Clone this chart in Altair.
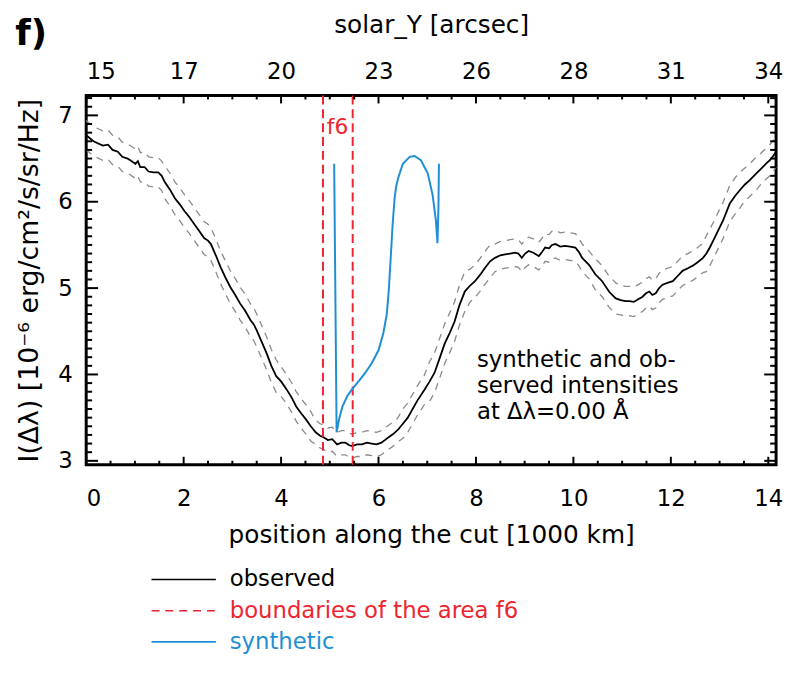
import json
import numpy as np
import pandas as pd
import altair as alt

FONT = "DejaVu Sans"
W, H = 697, 373
X_DOMAIN = [0, 14.16]
Y_DOMAIN = [2.955, 7.23]

RED = "#ee2530"
BLUE = "#1e8fd5"
GRAY = "#8a8a8a"

# ---------------- data ----------------
obs_x = [
    0.00, 0.15, 0.34, 0.45, 0.54, 0.65, 0.74, 0.85, 1.01, 1.06,
    1.11, 1.20, 1.28, 1.38, 1.48, 1.55, 1.61, 1.72, 1.82, 1.92,
    2.02, 2.12, 2.22, 2.32, 2.42, 2.50, 2.56, 2.66, 2.76, 2.86,
    2.96, 3.06, 3.16, 3.26, 3.37, 3.44, 3.50, 3.60, 3.70, 3.80,
    3.90, 4.00, 4.11, 4.21, 4.31, 4.41, 4.51, 4.61, 4.71, 4.80,
    4.88, 4.96, 5.05, 5.15, 5.24, 5.32, 5.40, 5.46, 5.56, 5.66,
    5.76, 5.86, 5.96, 6.06, 6.13, 6.20, 6.30, 6.40, 6.50, 6.60,
    6.70, 6.80, 6.94, 7.05, 7.15, 7.25, 7.36, 7.46, 7.56, 7.66,
    7.77, 7.88, 7.98, 8.08, 8.18, 8.29, 8.39, 8.50, 8.60, 8.70,
    8.80, 8.87, 8.94, 9.01, 9.08, 9.18, 9.29, 9.36, 9.42, 9.50,
    9.56, 9.63, 9.73, 9.83, 9.93, 10.04, 10.11, 10.18, 10.25, 10.32,
    10.45, 10.59, 10.66, 10.73, 10.80, 10.87, 10.97, 11.07, 11.15, 11.24,
    11.33, 11.42, 11.49, 11.56, 11.62, 11.69, 11.76, 11.83, 11.93, 12.04,
    12.14, 12.24, 12.35, 12.45, 12.55, 12.66, 12.73, 12.80, 12.87, 12.93,
    13.00, 13.07, 13.14, 13.21, 13.31, 13.41, 13.52, 13.62, 13.69, 13.76,
    13.83, 13.90, 13.97, 14.03, 14.10, 14.16,
]
obs_y = [
    6.77, 6.70, 6.65, 6.66, 6.60, 6.58, 6.52, 6.50, 6.44, 6.47,
    6.40, 6.40, 6.35, 6.34, 6.34, 6.30, 6.23, 6.14, 6.04, 5.97,
    5.89, 5.82, 5.74, 5.66, 5.58, 5.55, 5.51, 5.38, 5.24, 5.12,
    5.01, 4.92, 4.82, 4.74, 4.63, 4.58, 4.51, 4.38, 4.25, 4.10,
    3.98, 3.92, 3.83, 3.74, 3.63, 3.55, 3.48, 3.40, 3.33, 3.29,
    3.27, 3.24, 3.25, 3.19, 3.21, 3.21, 3.18, 3.17, 3.19, 3.19,
    3.21, 3.20, 3.19, 3.21, 3.24, 3.27, 3.31, 3.36, 3.43, 3.50,
    3.60, 3.70, 3.82, 3.92, 4.02, 4.18, 4.36, 4.48, 4.61, 4.80,
    4.96, 5.03, 5.08, 5.15, 5.23, 5.31, 5.35, 5.38, 5.39, 5.40,
    5.41, 5.40, 5.35, 5.40, 5.43, 5.41, 5.37, 5.42, 5.47, 5.46,
    5.50, 5.51, 5.48, 5.49, 5.48, 5.47, 5.42, 5.35, 5.31, 5.27,
    5.16, 5.08, 5.02, 4.96, 4.92, 4.88, 4.86, 4.85, 4.85, 4.84,
    4.87, 4.90, 4.94, 4.96, 4.92, 4.94, 5.00, 5.04, 5.06, 5.08,
    5.14, 5.20, 5.23, 5.26, 5.30, 5.35, 5.40, 5.47, 5.55, 5.62,
    5.70, 5.78, 5.88, 5.98, 6.06, 6.13, 6.20, 6.25, 6.29, 6.33,
    6.37, 6.41, 6.45, 6.48, 6.53, 6.58,
]
obs_err = [
    0.17, 0.17, 0.17, 0.17, 0.17, 0.17, 0.17, 0.17, 0.17, 0.17,
    0.17, 0.17, 0.17, 0.17, 0.17, 0.17, 0.19, 0.19, 0.19, 0.19,
    0.19, 0.19, 0.19, 0.19, 0.19, 0.19, 0.19, 0.19, 0.19, 0.19,
    0.19, 0.19, 0.19, 0.19, 0.19, 0.19, 0.19, 0.19, 0.19, 0.19,
    0.19, 0.17, 0.17, 0.17, 0.17, 0.17, 0.17, 0.17, 0.14, 0.14,
    0.14, 0.14, 0.14, 0.14, 0.14, 0.14, 0.14, 0.14, 0.14, 0.14,
    0.14, 0.14, 0.14, 0.14, 0.14, 0.14, 0.14, 0.14, 0.17, 0.17,
    0.17, 0.17, 0.17, 0.23, 0.23, 0.23, 0.23, 0.23, 0.23, 0.23,
    0.23, 0.19, 0.19, 0.19, 0.19, 0.19, 0.16, 0.16, 0.16, 0.16,
    0.16, 0.16, 0.16, 0.16, 0.16, 0.16, 0.16, 0.16, 0.16, 0.16,
    0.16, 0.16, 0.16, 0.16, 0.16, 0.16, 0.16, 0.16, 0.16, 0.16,
    0.18, 0.18, 0.18, 0.18, 0.18, 0.18, 0.17, 0.17, 0.17, 0.17,
    0.17, 0.17, 0.17, 0.17, 0.17, 0.17, 0.17, 0.17, 0.17, 0.17,
    0.17, 0.17, 0.17, 0.17, 0.17, 0.17, 0.21, 0.21, 0.21, 0.21,
    0.21, 0.21, 0.21, 0.21, 0.21, 0.21, 0.19, 0.19, 0.19, 0.19,
    0.18, 0.18, 0.18, 0.18, 0.18, 0.18,
]

syn_x = [5.09, 5.14, 5.19, 5.26, 5.36, 5.46, 5.59, 5.73, 5.86, 6.00,
         6.10, 6.17, 6.21, 6.25, 6.29, 6.33, 6.36, 6.40, 6.50, 6.64,
         6.74, 6.87, 7.01, 7.11, 7.18, 7.21, 7.23, 7.24]
syn_y = [6.44, 3.33, 3.48, 3.63, 3.75, 3.83, 3.92, 4.02, 4.13, 4.28,
         4.48, 4.70, 4.97, 5.35, 5.74, 6.04, 6.17, 6.27, 6.44, 6.52,
         6.53, 6.48, 6.33, 6.08, 5.77, 5.52, 5.93, 6.44]

f6_bounds = [4.86, 5.47]
f6_label = "f6"
f6_label_pos = [5.16, 6.87]

x_major = [0, 2, 4, 6, 8, 10, 12, 14]
top_labels = ["15", "17", "20", "23", "26", "28", "31", "34"]
y_major = [3, 4, 5, 6, 7]

legend_labels = ["observed", "boundaries of the area f6", "synthetic"]
legend_colors = ["#000000", RED, BLUE]
legend_dashed = [False, True, False]

annot_lines = ["synthetic and ob-", "served intensities", "at \u0394\u03bb=0.00 \u00c5"]
annot_x = 8.02
annot_y = [4.17, 3.86, 3.56]

# ---------------- tables ----------------
assert len(obs_x) == len(obs_y) == len(obs_err)
obs_df = pd.DataFrame({"x": obs_x, "y": obs_y})
obs_df["upper"] = obs_df["y"] + np.array(obs_err)
obs_df["lower"] = obs_df["y"] - np.array(obs_err)
syn_df = pd.DataFrame({"x": syn_x, "y": syn_y, "i": range(len(syn_x))})
bound_df = pd.DataFrame({"x": f6_bounds})
f6_df = pd.DataFrame({"x": [f6_label_pos[0]], "y": [f6_label_pos[1]], "t": [f6_label]})
annot_df = pd.DataFrame({"x": [annot_x] * len(annot_lines), "y": annot_y, "t": annot_lines})

x_minor = [float(v) for v in np.arange(0, X_DOMAIN[1], 0.5) if float(v) not in x_major]
y_minor = [round(float(v), 1) for v in np.arange(3.0, Y_DOMAIN[1], 0.1)
           if abs(v - round(v)) > 1e-6]
xmaj_df = pd.DataFrame({"x": x_major})
xmin_df = pd.DataFrame({"x": x_minor})
ymaj_df = pd.DataFrame({"y": y_major})
ymin_df = pd.DataFrame({"y": y_minor})

xscale = alt.Scale(domain=X_DOMAIN, nice=False, zero=False)
yscale = alt.Scale(domain=Y_DOMAIN, nice=False, zero=False)


def X(field="x", axis=None):
    return alt.X(f"{field}:Q", scale=xscale, axis=axis)


def Y(field="y", axis=None):
    return alt.Y(f"{field}:Q", scale=yscale, axis=axis)


bottom_axis = alt.Axis(
    orient="bottom", values=x_major, format="d", domain=False, ticks=False,
    tickSize=0, grid=False, labelFontSize=23, labelPadding=23,
    title="position along the cut [1000 km]", titleFontSize=25,
    titleFontWeight="normal", titlePadding=13,
)
top_expr = f"{json.dumps(top_labels)}[indexof({json.dumps(x_major)}, datum.value)]"
top_axis = alt.Axis(
    orient="top", values=x_major, labelExpr=top_expr, domain=False, ticks=False,
    tickSize=0, grid=False, labelFontSize=23, labelPadding=12,
    title="solar_Y [arcsec]", titleFontSize=25, titleFontWeight="normal",
    titlePadding=24,
)
left_axis = alt.Axis(
    orient="left", values=y_major, format="d", domain=False, ticks=False,
    tickSize=0, grid=False, labelFontSize=23, labelPadding=14,
    title="I(\u0394\u03bb) [10\u207b\u2076 erg/cm\u00b2/s/sr/Hz]", titleFontSize=27,
    titleFontWeight="normal", titlePadding=15,
)

observed = alt.Chart(obs_df).mark_line(color="black", strokeWidth=1.8).encode(
    x=X("x", bottom_axis), y=Y("y", left_axis)
)
upper = alt.Chart(obs_df).mark_line(color=GRAY, strokeWidth=1.3, strokeDash=[7, 6]).encode(
    x=X("x", top_axis), y=Y("upper")
)
lower = alt.Chart(obs_df).mark_line(color=GRAY, strokeWidth=1.3, strokeDash=[7, 6]).encode(
    x=X("x"), y=Y("lower")
)
bounds = alt.Chart(bound_df).mark_rule(color=RED, strokeWidth=2, strokeDash=[9, 5]).encode(
    x=X("x")
)
f6_text = alt.Chart(f6_df).mark_text(color=RED, fontSize=22, font=FONT).encode(
    x=X("x"), y=Y("y"), text="t:N"
)
synthetic = alt.Chart(syn_df).mark_line(color=BLUE, strokeWidth=2).encode(
    x=X("x"), y=Y("y"), order="i:Q"
)
annot = alt.Chart(annot_df).mark_text(align="left", baseline="middle", fontSize=23,
                                      font=FONT, color="black").encode(
    x=X("x"), y=Y("y"), text="t:N"
)

# inward ticks on all four sides
XMAJ, XMIN, YMAJ, YMIN = 8, 4, 12, 6
tick_layers = [
    alt.Chart(xmaj_df).mark_rule(color="black", strokeWidth=2).encode(
        x=X("x"), y=alt.value(H), y2=alt.value(H - XMAJ)),
    alt.Chart(xmin_df).mark_rule(color="black", strokeWidth=2).encode(
        x=X("x"), y=alt.value(H), y2=alt.value(H - XMIN)),
    alt.Chart(xmaj_df).mark_rule(color="black", strokeWidth=2).encode(
        x=X("x"), y=alt.value(0), y2=alt.value(XMAJ)),
    alt.Chart(xmin_df).mark_rule(color="black", strokeWidth=2).encode(
        x=X("x"), y=alt.value(0), y2=alt.value(XMIN)),
    alt.Chart(ymaj_df).mark_rule(color="black", strokeWidth=2).encode(
        y=Y("y"), x=alt.value(0), x2=alt.value(YMAJ)),
    alt.Chart(ymin_df).mark_rule(color="black", strokeWidth=2).encode(
        y=Y("y"), x=alt.value(0), x2=alt.value(YMIN)),
    alt.Chart(ymaj_df).mark_rule(color="black", strokeWidth=2).encode(
        y=Y("y"), x=alt.value(W), x2=alt.value(W - YMAJ)),
    alt.Chart(ymin_df).mark_rule(color="black", strokeWidth=2).encode(
        y=Y("y"), x=alt.value(W), x2=alt.value(W - YMIN)),
]

# legend drawn below the plot area
LEG_Y0, LEG_DY = 489, 31.5
legend_layers = []
for i, (lab, col, dashed) in enumerate(zip(legend_labels, legend_colors, legend_dashed)):
    row = pd.DataFrame({"label": [lab]})
    ypos = LEG_Y0 + i * LEG_DY
    rule_kw = dict(color=col, strokeWidth=1.6)
    if dashed:
        rule_kw["strokeDash"] = [8, 6]
    legend_layers.append(
        alt.Chart(row).mark_rule(**rule_kw).encode(
            x=alt.value(66), x2=alt.value(131), y=alt.value(ypos))
    )
    legend_layers.append(
        alt.Chart(row).mark_text(align="left", baseline="middle", fontSize=23,
                                 font=FONT, color=col).encode(
            x=alt.value(145), y=alt.value(ypos), text="label:N")
    )

chart = alt.layer(
    observed, lower, upper, bounds, f6_text, synthetic, annot, *tick_layers, *legend_layers
).resolve_axis(x="independent", y="independent").properties(
    width=W, height=H,
    title=alt.TitleParams("f)", anchor="start", frame="bounds", fontSize=36,
                          fontWeight="bold", font=FONT, dy=45),
    autosize=alt.AutoSizeParams(type="none"),
    padding={"left": 79, "top": 85, "right": 8, "bottom": 205},
).configure_view(
    stroke="black", strokeWidth=3
).configure_axis(
    labelFont=FONT, titleFont=FONT, labelColor="black", titleColor="black"
).configure_text(font=FONT)

chart.save("out.html", embed_options={"renderer": "svg", "actions": False})
